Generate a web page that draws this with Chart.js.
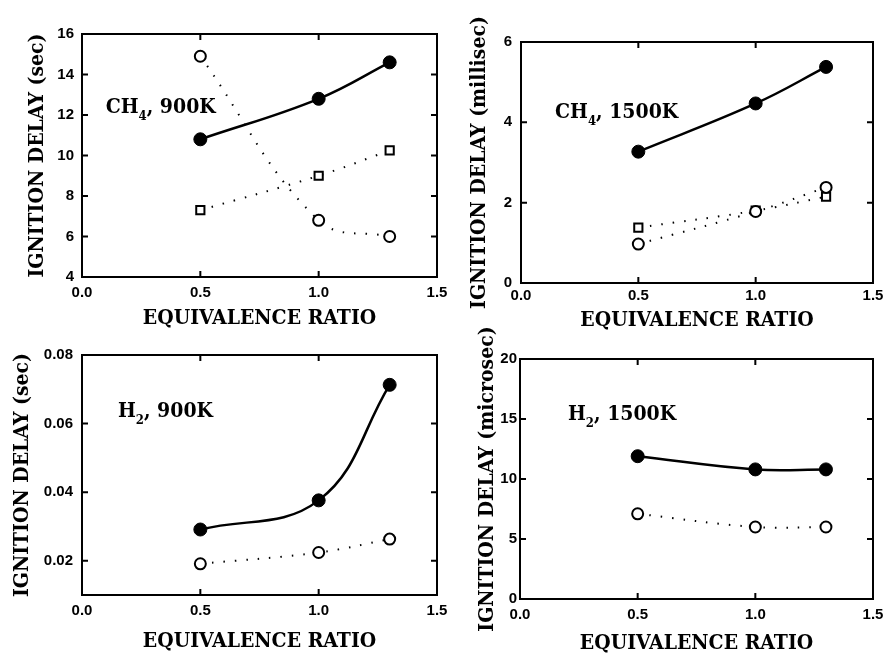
<!DOCTYPE html>
<html>
<head>
<meta charset="utf-8">
<script src="https://cdn.jsdelivr.net/npm/chart.js@4/dist/chart.umd.min.js"></script>
<style>
  html, body { margin: 0; padding: 0; background: #fff; }
  #wrap { position: relative; width: 887px; height: 656px; background: #fff; }
  #wrap canvas { position: absolute; left: 0; top: 0; }
</style>
</head>
<body>
<div id="wrap">
  <canvas id="p1" width="887" height="656"></canvas>
  <canvas id="p2" width="887" height="656"></canvas>
  <canvas id="p3" width="887" height="656"></canvas>
  <canvas id="p4" width="887" height="656"></canvas>
</div>
<script>
// equivalence ratio of the three runs
const phi = [0.5, 1.0, 1.3];

// CH4, 900K (sec)
const ch4_900_filled = [10.8, 12.8, 14.6];
const ch4_900_open = [14.9, 6.8, 6.0];
const ch4_900_square = [7.3, 9.0, 10.25];

// CH4, 1500K (millisec)
const ch4_1500_filled = [3.27, 4.47, 5.38];
const ch4_1500_open = [0.97, 1.78, 2.38];
const ch4_1500_square = [1.38, 1.8, 2.15];

// H2, 900K (sec)
const h2_900_filled = [0.0291, 0.0376, 0.0713];
const h2_900_open = [0.0191, 0.0224, 0.0263];

// H2, 1500K (microsec)
const h2_1500_filled = [11.9, 10.8, 10.8];
const h2_1500_open = [7.1, 6.0, 6.0];

// tick values and labels
const xTicks = [0, 0.5, 1.0, 1.5];
const xTickLabels = ['0.0', '0.5', '1.0', '1.5'];
const yTicks1 = [4, 6, 8, 10, 12, 14, 16];
const yTicks2 = [0, 2, 4, 6];
const yTicks3 = [0.02, 0.04, 0.06, 0.08];
const yTickLabels3 = ['0.02', '0.04', '0.06', '0.08'];
const yTicks4 = [0, 5, 10, 15, 20];

const INK = '#000';
const tickFont = { family: '"Liberation Sans", Arial, sans-serif', size: 15, weight: 'bold' };
const titleFont = { family: '"DejaVu Serif Condensed", "DejaVu Serif", serif', size: 21, weight: 'bold' };
const labelFace = '"DejaVu Serif Condensed", "DejaVu Serif", serif';

const pts = (ys) => phi.map((x, i) => ({ x: x, y: ys[i] }));

function series(ys, kind) {
    const base = {
        data: pts(ys),
        borderColor: INK,
        pointBorderColor: INK,
        tension: 0.4,
        fill: false
    };
    if (kind === 'filled') {
        return Object.assign(base, {
            borderWidth: 2.5,
            pointStyle: 'circle',
            pointRadius: 6.5,
            pointBackgroundColor: INK,
            pointBorderWidth: 1
        });
    }
    return Object.assign(base, {
        borderWidth: 2,
        borderDash: [1.5, 10],
        pointStyle: kind === 'square' ? 'rect' : 'circle',
        pointRadius: kind === 'square' ? 5.8 : 5.5,
        pointBackgroundColor: '#fff',
        pointBorderWidth: 2
    });
}

// axis box, inward ticks on all four sides, panel label
const framePlugin = {
    id: 'frame',
    beforeDatasetsDraw(chart) {
        const { ctx, chartArea: a, scales: { x, y } } = chart;
        ctx.save();
        ctx.strokeStyle = INK;
        ctx.lineWidth = 2;
        ctx.strokeRect(a.left, a.top, a.right - a.left, a.bottom - a.top);
        ctx.beginPath();
        x.ticks.forEach(t => {
            const px = x.getPixelForValue(t.value);
            ctx.moveTo(px, a.bottom); ctx.lineTo(px, a.bottom - 6);
            ctx.moveTo(px, a.top); ctx.lineTo(px, a.top + 6);
        });
        y.ticks.forEach(t => {
            const py = y.getPixelForValue(t.value);
            ctx.moveTo(a.left, py); ctx.lineTo(a.left + 6, py);
            ctx.moveTo(a.right, py); ctx.lineTo(a.right - 6, py);
        });
        ctx.stroke();
        ctx.restore();
    },
    afterDatasetsDraw(chart, args, opts) {
        const lab = opts.label;
        if (!lab) return;
        const { ctx, scales: { x, y } } = chart;
        let px = x.getPixelForValue(lab.x);
        const py = y.getPixelForValue(lab.y);
        ctx.save();
        ctx.fillStyle = INK;
        ctx.textBaseline = 'alphabetic';
        ctx.textAlign = 'left';
        ctx.font = 'bold 21px ' + labelFace;
        ctx.fillText(lab.main, px, py);
        px += ctx.measureText(lab.main).width;
        ctx.font = 'bold 13px ' + labelFace;
        ctx.fillText(lab.sub, px, py + 7);
        px += ctx.measureText(lab.sub).width;
        ctx.font = 'bold 21px ' + labelFace;
        ctx.fillText(lab.rest, px, py);
        ctx.restore();
    }
};

function makePanel(id, p) {
    const ctx = document.getElementById(id).getContext('2d');
    return new Chart(ctx, {
        type: 'line',
        data: { datasets: p.datasets },
        plugins: [framePlugin],
        options: {
            responsive: false,
            animation: false,
            events: [],
            layout: {
                padding: {
                    left: p.area.l - p.yw,
                    top: p.area.t,
                    right: 887 - p.area.r,
                    bottom: 656 - p.area.b - p.xh
                }
            },
            plugins: {
                legend: { display: false },
                tooltip: { enabled: false },
                frame: { label: p.label }
            },
            scales: {
                x: {
                    type: 'linear',
                    min: 0,
                    max: 1.5,
                    grid: { display: false, drawTicks: false },
                    border: { display: false },
                    afterBuildTicks: s => { s.ticks = xTicks.map(v => ({ value: v })); },
                    afterFit: s => {
                        s.height = p.xh;
                        s.paddingLeft = 0; s.paddingRight = 0;
                    },
                    ticks: {
                        autoSkip: false,
                        maxRotation: 0,
                        color: INK,
                        font: tickFont,
                        padding: p.xPad,
                        callback: (v, i) => xTickLabels[i]
                    },
                    title: {
                        display: true,
                        text: 'EQUIVALENCE RATIO',
                        color: INK,
                        font: titleFont,
                        padding: 0
                    }
                },
                y: {
                    type: 'linear',
                    min: p.yMin,
                    max: p.yMax,
                    grid: { display: false, drawTicks: false },
                    border: { display: false },
                    afterBuildTicks: s => { s.ticks = p.yTicks.map(v => ({ value: v })); },
                    afterFit: s => {
                        s.width = p.yw;
                        s.paddingTop = 0; s.paddingBottom = 0;
                    },
                    ticks: {
                        autoSkip: false,
                        color: INK,
                        font: tickFont,
                        padding: p.yPad,
                        callback: (v, i) => p.yLabels ? p.yLabels[i] : String(v)
                    },
                    title: {
                        display: true,
                        text: p.yTitle,
                        color: INK,
                        font: titleFont,
                        padding: 0
                    }
                }
            }
        }
    });
}

makePanel('p1', {
    area: { l: 82, t: 34, r: 437, b: 277 }, yw: 57, xh: 54, xPad: 7, yPad: 8,
    yMin: 4, yMax: 16, yTicks: yTicks1,
    yTitle: 'IGNITION DELAY (sec)',
    label: { x: 0.1, y: 12.1, main: 'CH', sub: '4', rest: ', 900K' },
    datasets: [
        series(ch4_900_filled, 'filled'),
        series(ch4_900_open, 'open'),
        series(ch4_900_square, 'square')
    ]
});

makePanel('p2', {
    area: { l: 521, t: 42, r: 873, b: 283 }, yw: 54, xh: 50, xPad: 4, yPad: 9,
    yMin: 0, yMax: 6, yTicks: yTicks2,
    yTitle: 'IGNITION DELAY (millisec)',
    label: { x: 0.145, y: 4.11, main: 'CH', sub: '4', rest: ', 1500K' },
    datasets: [
        series(ch4_1500_filled, 'filled'),
        series(ch4_1500_open, 'open'),
        series(ch4_1500_square, 'square')
    ]
});

makePanel('p3', {
    area: { l: 82, t: 355, r: 437, b: 595 }, yw: 72, xh: 59, xPad: 7, yPad: 9,
    yMin: 0.01, yMax: 0.08, yTicks: yTicks3, yLabels: yTickLabels3,
    yTitle: 'IGNITION DELAY (sec)',
    label: { x: 0.152, y: 0.0619, main: 'H', sub: '2', rest: ', 900K' },
    datasets: [
        series(h2_900_filled, 'filled'),
        series(h2_900_open, 'open')
    ]
});

makePanel('p4', {
    area: { l: 520, t: 359, r: 873, b: 599 }, yw: 45, xh: 57, xPad: 7, yPad: 3,
    yMin: 0, yMax: 20, yTicks: yTicks4,
    yTitle: 'IGNITION DELAY (microsec)',
    label: { x: 0.204, y: 14.9, main: 'H', sub: '2', rest: ', 1500K' },
    datasets: [
        series(h2_1500_filled, 'filled'),
        series(h2_1500_open, 'open')
    ]
});
</script>
</body>
</html>
